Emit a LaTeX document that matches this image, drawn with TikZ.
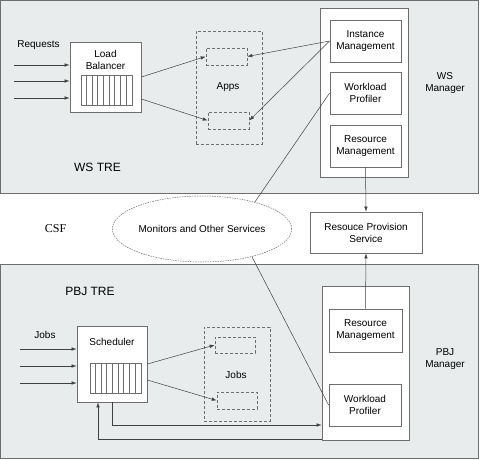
\documentclass[tikz,border=0pt]{standalone}
\usepackage{fontspec}
\setmainfont{Liberation Sans}
\newfontfamily\csffont{Liberation Serif}
\usetikzlibrary{arrows.meta,shapes.geometric}
\definecolor{tregray}{RGB}{233,236,236}
\definecolor{linegray}{RGB}{110,110,110}
\begin{document}
\begin{tikzpicture}[x=1pt,y=-1pt,
  tre/.style={draw=linegray, fill=tregray, line width=0.9pt},
  box/.style={draw=linegray, fill=white, line width=0.8pt, inner sep=0pt, align=center},
  dbox/.style={draw=linegray, line width=0.6pt, dash pattern=on 3pt off 2pt, inner sep=0pt},
  lbl/.style={align=center, inner sep=0pt},
  arr/.style={-{Latex[length=5pt,width=3.5pt]}, draw=black!75, line width=0.5pt},
  lnk/.style={draw=black!75, line width=0.5pt},
  cell/.style={draw=linegray, line width=0.5pt}]
\useasboundingbox (0,0) rectangle (484,459);
\draw[tre] (0.5,0.5) rectangle (478.5,193.5);
\draw[tre] (0.5,264) rectangle (478.5,458);

\node[box, minimum width=71pt, minimum height=70pt] (lb) at (105.5,77) {};
\node[lbl] (lbtxt) at (105.5,60) {Load\\Balancer};
\node[box, minimum width=51pt, minimum height=30pt] (lbq) at (106.5,90) {};
\foreach \i in {1,...,8}
  \draw[cell] ([xshift=\i*5.67pt]lbq.north west) -- ([xshift=\i*5.67pt]lbq.south west);
\node[lbl] (req) at (38.5,45) {Requests};
\foreach \y [count=\n] in {65,81,98} {
  \coordinate (r\n) at (14,\y);
  \draw[arr] (r\n) -- (r\n -| lb.west);
}

\node[dbox, minimum width=66pt, minimum height=113pt] (apps) at (229,87.5) {};
\node[lbl] (appstxt) at (228,87) {Apps};
\node[dbox, minimum width=41pt, minimum height=17pt] (a1) at (226.5,56.5) {};
\node[dbox, minimum width=41pt, minimum height=17pt] (a2) at (228.5,120.5) {};
\draw[arr] (lb.east) -- (a1.west);
\draw[arr] ([yshift=-22pt]lb.east) -- (a2.west);

\node[box, minimum width=88pt, minimum height=169pt] (wsm) at (364,92.5) {};
\node[box, minimum width=71pt, minimum height=42pt] (im) at (365.5,41) {Instance\\Management};
\node[box, minimum width=71pt, minimum height=42pt] (wp) at (365.5,93) {Workload\\Profiler};
\node[box, minimum width=71pt, minimum height=42pt] (rm) at (365.5,146) {Resource\\Management};
\node[lbl] (wsmtxt) at (445,83) {WS\\Manager};
\draw[arr] (im.west) -- (a1.east);
\draw[arr] (im.west) -- (a2.east);
\node[lbl, font=\large] (wstre) at (97.5,167) {WS TRE};

\node[lbl, font=\large\csffont] (csf) at (55.5,229) {CSF};
\node[ellipse, draw=linegray, fill=white, line width=0.5pt, dash pattern=on 1.5pt off 1pt,
  minimum width=170pt, minimum height=66pt, inner sep=0pt] (mon) at (202,229) {Monitors and Other Services};
\node[box, minimum width=112pt, minimum height=41pt] (rps) at (366,232.5) {Resouce Provision\\Service};
\draw[lnk] (wp.west) -- (mon.27);
\draw[arr] (rm.south) -- (rps.north);

\node[lbl, font=\large] (pbjtre) at (90,291) {PBJ TRE};
\node[box, minimum width=70pt, minimum height=76pt] (sch) at (112,364) {};
\node[lbl] (schtxt) at (112,342) {Scheduler};
\node[box, minimum width=51pt, minimum height=30pt] (schq) at (115.5,378) {};
\foreach \i in {1,...,8}
  \draw[cell] ([xshift=\i*5.67pt]schq.north west) -- ([xshift=\i*5.67pt]schq.south west);
\node[lbl] (jobin) at (45,335) {Jobs};
\foreach \y [count=\n] in {349,366,383} {
  \coordinate (j\n) at (20,\y);
  \draw[arr] (j\n) -- (j\n -| sch.west);
}

\node[dbox, minimum width=66pt, minimum height=94pt] (jobs) at (237,374) {};
\node[lbl] (jobstxt) at (236,375) {Jobs};
\node[dbox, minimum width=40pt, minimum height=16pt] (jb1) at (235,345) {};
\node[dbox, minimum width=40pt, minimum height=17pt] (jb2) at (237,400.5) {};
\draw[arr] (sch.east) -- (jb1.west);
\draw[arr] ([yshift=-16pt]sch.east) -- (jb2.west);

\node[box, minimum width=87pt, minimum height=154pt] (pbm) at (365.5,363) {};
\node[box, minimum width=73pt, minimum height=43pt] (prm) at (365.5,330.5) {Resource\\Management};
\node[box, minimum width=72pt, minimum height=42pt] (pwp) at (365,405) {Workload\\Profiler};
\node[lbl] (pbmtxt) at (445,359) {PBJ\\Manager};
\draw[arr] (prm.north) -- (rps.south);
\draw[lnk] (mon.-29) -- (pwp.west);
\draw[arr] (sch.south) |- ([yshift=-62pt]pbm.west);
\draw[arr] ([yshift=1pt]pbm.south west) -| ([xshift=-14pt]sch.south);
\end{tikzpicture}
\end{document}
